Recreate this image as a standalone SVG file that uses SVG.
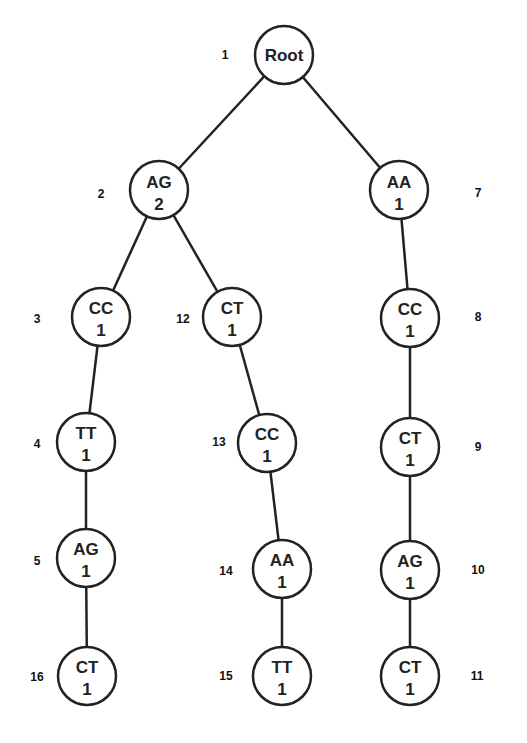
<svg xmlns="http://www.w3.org/2000/svg" width="527" height="743" viewBox="0 0 527 743">
<style>
.e{stroke:#222;stroke-width:2.5;fill:none}
.n circle{fill:#fff;stroke:#222;stroke-width:2.5}
.t{font-family:"Liberation Sans",Arial,sans-serif;font-weight:bold;font-size:17px;fill:#222;text-anchor:middle}
.l{font-family:"Liberation Sans",Arial,sans-serif;font-weight:bold;font-size:12px;fill:#111;text-anchor:middle}
</style>
<rect width="527" height="743" fill="#fff"/>
<g id="connectors">
<line class="e" x1="284" y1="55" x2="159" y2="190"/>
<line class="e" x1="284" y1="55" x2="399" y2="190"/>
<line class="e" x1="159" y1="190" x2="101" y2="317"/>
<line class="e" x1="159" y1="190" x2="232" y2="317"/>
<line class="e" x1="399" y1="190" x2="410" y2="318"/>
<line class="e" x1="101" y1="317" x2="86" y2="442"/>
<line class="e" x1="86" y1="442" x2="86" y2="558"/>
<line class="e" x1="86" y1="558" x2="87" y2="676"/>
<line class="e" x1="232" y1="317" x2="267" y2="443"/>
<line class="e" x1="267" y1="443" x2="282" y2="569"/>
<line class="e" x1="282" y1="569" x2="282" y2="676"/>
<line class="e" x1="410" y1="318" x2="410" y2="447"/>
<line class="e" x1="410" y1="447" x2="410" y2="570"/>
<line class="e" x1="410" y1="570" x2="410" y2="676"/>
</g>
<g id="n1" class="n"><circle cx="284" cy="55" r="29"/><text class="t" x="284" y="61">Root</text><text class="l" x="225" y="59">1</text></g>
<g id="n2" class="n"><circle cx="159" cy="190" r="29"/><text class="t" x="159" y="188">AG</text><text class="t" x="159" y="210">2</text><text class="l" x="101" y="198">2</text></g>
<g id="n7" class="n"><circle cx="399" cy="190" r="29"/><text class="t" x="399" y="188">AA</text><text class="t" x="399" y="210">1</text><text class="l" x="478" y="197">7</text></g>
<g id="n3" class="n"><circle cx="101" cy="317" r="29"/><text class="t" x="101" y="314">CC</text><text class="t" x="101" y="336">1</text><text class="l" x="37" y="323">3</text></g>
<g id="n12" class="n"><circle cx="232" cy="317" r="29"/><text class="t" x="232" y="314">CT</text><text class="t" x="232" y="336">1</text><text class="l" x="183" y="323">12</text></g>
<g id="n8" class="n"><circle cx="410" cy="318" r="29"/><text class="t" x="410" y="315">CC</text><text class="t" x="410" y="337">1</text><text class="l" x="478" y="321">8</text></g>
<g id="n4" class="n"><circle cx="86" cy="442" r="29"/><text class="t" x="86" y="439">TT</text><text class="t" x="86" y="461">1</text><text class="l" x="37" y="448">4</text></g>
<g id="n13" class="n"><circle cx="267" cy="443" r="29"/><text class="t" x="267" y="440">CC</text><text class="t" x="267" y="462">1</text><text class="l" x="219" y="446">13</text></g>
<g id="n9" class="n"><circle cx="410" cy="447" r="29"/><text class="t" x="410" y="444">CT</text><text class="t" x="410" y="466">1</text><text class="l" x="478" y="451">9</text></g>
<g id="n5" class="n"><circle cx="86" cy="558" r="29"/><text class="t" x="86" y="555">AG</text><text class="t" x="86" y="577">1</text><text class="l" x="37" y="565">5</text></g>
<g id="n14" class="n"><circle cx="282" cy="569" r="29"/><text class="t" x="282" y="566">AA</text><text class="t" x="282" y="588">1</text><text class="l" x="226" y="575">14</text></g>
<g id="n10" class="n"><circle cx="410" cy="570" r="29"/><text class="t" x="410" y="567">AG</text><text class="t" x="410" y="589">1</text><text class="l" x="478" y="574">10</text></g>
<g id="n16" class="n"><circle cx="87" cy="676" r="29"/><text class="t" x="87" y="673">CT</text><text class="t" x="87" y="695">1</text><text class="l" x="37" y="681">16</text></g>
<g id="n15" class="n"><circle cx="282" cy="676" r="29"/><text class="t" x="282" y="673">TT</text><text class="t" x="282" y="695">1</text><text class="l" x="226" y="680">15</text></g>
<g id="n11" class="n"><circle cx="410" cy="676" r="29"/><text class="t" x="410" y="673">CT</text><text class="t" x="410" y="695">1</text><text class="l" x="477" y="680">11</text></g>
</svg>
